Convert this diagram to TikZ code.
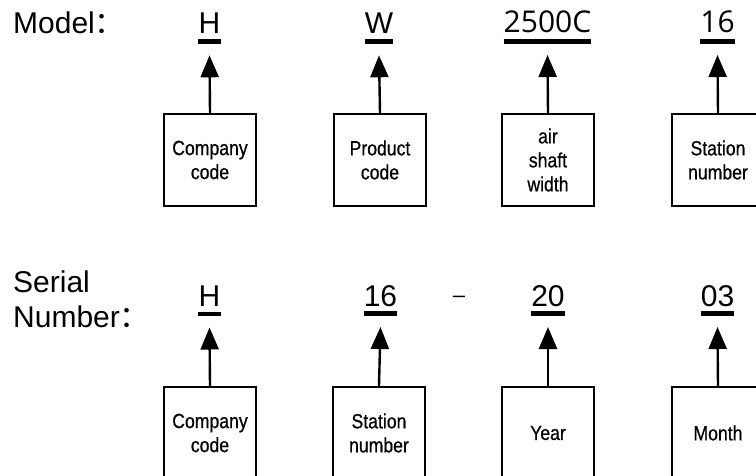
\documentclass[tikz,border=0pt]{standalone}
\usepackage{fontspec}
\setmainfont{Liberation Sans}
\newfontfamily\numfont{Open Sans}
\newfontfamily\cjk{Noto Sans CJK SC}
\newfontfamily\boxfont[FakeStretch=0.86, FakeBold=0.6]{Liberation Sans}
\usepackage{tikz}
\usetikzlibrary{positioning,arrows.meta}

\begin{document}
\begin{tikzpicture}[x=1pt, y=-1pt,
          title/.style={inner sep=0, anchor=base west, font=\fontsize{30}{34}\selectfont},
          part/.style={inner sep=0, anchor=base, font=\fontsize{30}{34}\selectfont},
          box/.style={draw, line width=2.4pt, minimum width=92pt, minimum height=92pt, inner sep=0,
                      align=center, font=\boxfont\fontsize{20.5}{24}\selectfont},
          uline/.style={line width=4.5pt},
          arr/.style={line width=2.4pt, -{Triangle[length=22pt, width=18pt]}}
      ]
        \clip (0,0) rectangle (756,476);

        % model
        \node[title] (model) at (13,33.3) {Model{\cjk ：}};
        \node[part] (m0) at (209.5,33.3) {H};
        \node[part] (m1) at (379,33.3) {W};
        \node[part, font=\numfont\fontsize{30}{34}\selectfont] (m2) at (547.5,33) {2500C};
        \node[part, font=\numfont\fontsize{30}{34}\selectfont] (m3) at (717.5,33) {16};

        \node[box] (mb0) at (210,160) {Company\\code};
        \node[box] (mb1) at (380,160) {Product\\code};
        \node[box] (mb2) at (548,160) {air\\shaft\\width};
        \node[box] (mb3) at (718,160) {Station\\number};

        \draw[uline] ([yshift=-8.4pt]m0.base west) -- ([yshift=-8.4pt]m0.base east);
        \draw[uline] ([yshift=-8.4pt]m1.base west) -- ([yshift=-8.4pt]m1.base east);
        \draw[uline] ([yshift=-8.4pt]m2.base west) -- ([yshift=-8.4pt]m2.base east);
        \draw[uline] ([yshift=-8.4pt]m3.base west) -- ([yshift=-8.4pt]m3.base east);

        \draw[arr] (mb0.north) -- ([yshift=-22pt]m0.base);
        \draw[arr] (mb1.north) -- ([yshift=-22pt]m1.base);
        \draw[arr] (mb2.north) -- ([yshift=-22pt]m2.base);
        \draw[arr] (mb3.north) -- ([yshift=-22pt]m3.base);

        % serial number
        \node[title] (serial) at (13,293) {Serial};
        \node[title] (number) at (13,327) {Number{\cjk ：}};
        \node[part] (s0) at (209.5,306.5) {H};
        \node[part] (s1) at (380.5,306) {16};
        \node[part, font=\fontsize{22}{26}\selectfont] (dash) at (459,302) {–};
        \node[part] (s2) at (548,306) {20};
        \node[part] (s3) at (717.5,306) {03};

        \node[box] (sb0) at (210,433) {Company\\code};
        \node[box] (sb1) at (379,433) {Station\\number};
        \node[box] (sb2) at (548,433) {Year};
        \node[box] (sb3) at (718,433) {Month};

        \draw[uline] ([yshift=-7.5pt]s0.base west) -- ([yshift=-7.5pt]s0.base east);
        \draw[uline] ([yshift=-7.5pt]s1.base west) -- ([yshift=-7.5pt]s1.base east);
        \draw[uline] ([yshift=-7.5pt]s2.base west) -- ([yshift=-7.5pt]s2.base east);
        \draw[uline] ([yshift=-7.5pt]s3.base west) -- ([yshift=-7.5pt]s3.base east);

        \draw[arr] (sb0.north) -- ([yshift=-21pt]s0.base);
        \draw[arr] (sb1.north) -- ([yshift=-21pt]s1.base);
        \draw[arr] (sb2.north) -- ([yshift=-21pt]s2.base);
        \draw[arr] (sb3.north) -- ([yshift=-21pt]s3.base);
      \end{tikzpicture}
\end{document}
